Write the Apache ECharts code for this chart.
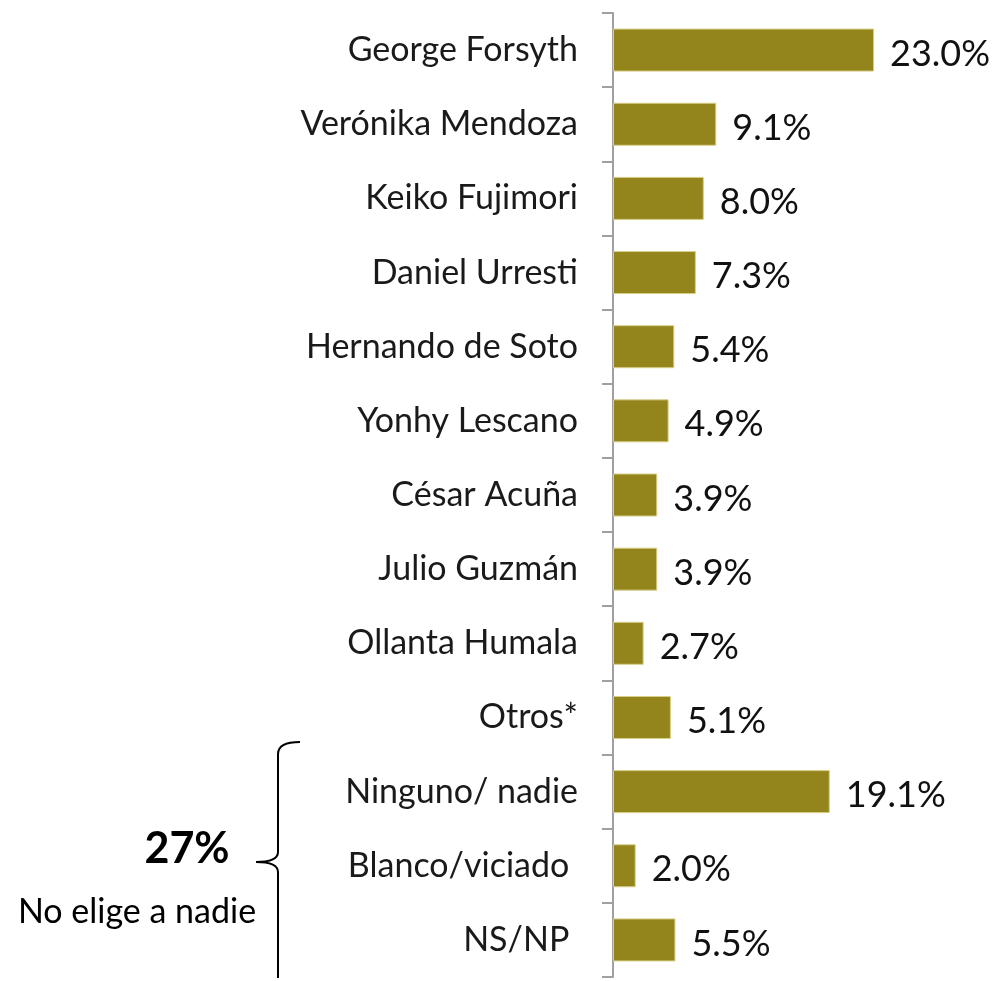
<!DOCTYPE html>
<html>
<head>
<meta charset="utf-8">
<script src="https://cdn.jsdelivr.net/npm/echarts@6/dist/echarts.min.js"></script>
<style>
  html, body { margin: 0; padding: 0; background: #fff; }
  #chart { width: 1002px; height: 981px; }
</style>
</head>
<body>
<div id="chart"></div>
<script>
// categories top to bottom
const candidates = [
  "George Forsyth", "Verónika Mendoza", "Keiko Fujimori", "Daniel Urresti",
  "Hernando de Soto", "Yonhy Lescano", "César Acuña", "Julio Guzmán",
  "Ollanta Humala", "Otros*", "Ninguno/ nadie", "Blanco/viciado ", "NS/NP "
];
const shares = [23.0, 9.1, 8.0, 7.3, 5.4, 4.9, 3.9, 3.9, 2.7, 5.1, 19.1, 2.0, 5.5];
const groupTotal = "27%";
const groupLabel = "No elige a nadie";

var dom = document.getElementById("chart");
var myChart = echarts.init(dom);

var braceStyle = { fill: "none", stroke: "#000", lineWidth: 2 };

var option = {
  animation: false,
  grid: { left: 613, top: 13, bottom: 4, width: 340.5 },
  xAxis: {
    type: "value",
    min: 0,
    max: 30,
    show: false
  },
  yAxis: {
    type: "category",
    inverse: true,
    data: candidates,
    axisLine: { show: true, lineStyle: { color: "#a0a0a0", width: 2 } },
    axisTick: { show: true, alignWithLabel: false, length: 11, lineStyle: { color: "#a0a0a0", width: 2 } },
    axisLabel: {
      margin: 35,
      fontFamily: "Lato",
      fontSize: 34,
      color: "#1a1a1a"
    }
  },
  series: [
    {
      type: "bar",
      data: shares,
      barCategoryGap: "42%",
      itemStyle: { color: "#93841b", borderColor: "#d8cf8a", borderWidth: 1 },
      label: {
        show: true,
        position: "right",
        distance: 16,
        fontFamily: "Lato",
        fontSize: 36,
        color: "#111",
        offset: [0, 4],
        formatter: function (p) {
          return p.value.toFixed(1) + "%";
        }
      }
    }
  ],
  graphic: [
    // brace grouping the last three rows
    { type: "bezierCurve", shape: { x1: 300, y1: 742, cpx1: 278, cpy1: 742, x2: 278, y2: 754 }, style: braceStyle },
    { type: "line", shape: { x1: 278, y1: 754, x2: 278, y2: 852 }, style: braceStyle },
    { type: "bezierCurve", shape: { x1: 278, y1: 852, cpx1: 278, cpy1: 862, x2: 256, y2: 862 }, style: braceStyle },
    { type: "bezierCurve", shape: { x1: 256, y1: 862, cpx1: 278, cpy1: 862, x2: 278, y2: 872 }, style: braceStyle },
    { type: "line", shape: { x1: 278, y1: 872, x2: 278, y2: 978 }, style: braceStyle },
    {
      type: "text",
      style: {
        text: groupTotal,
        x: 187,
        y: 849,
        fontFamily: "Lato",
        fontWeight: "bold",
        fontSize: 43,
        fill: "#000",
        align: "center",
        verticalAlign: "middle"
      }
    },
    {
      type: "text",
      style: {
        text: groupLabel,
        x: 137,
        y: 912,
        fontFamily: "Lato",
        fontSize: 34,
        fill: "#000",
        align: "center",
        verticalAlign: "middle"
      }
    }
  ]
};

myChart.setOption(option, true);
</script>
</body>
</html>
